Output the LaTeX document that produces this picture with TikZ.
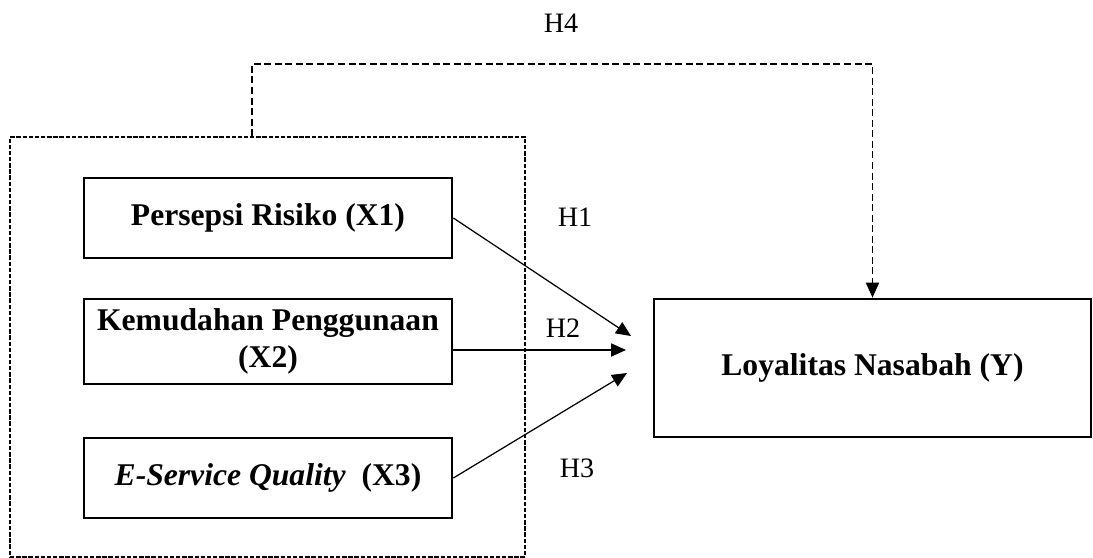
\documentclass[tikz,border=0pt]{standalone}
\usepackage{fontspec}
\setmainfont{Liberation Serif}
\usepackage{tikz}
\usetikzlibrary{arrows.meta}

\begin{document}
\begin{tikzpicture}[x=0.02cm,y=-0.02cm,
  varbox/.style={draw,line width=1.6pt,minimum width=7.36cm,minimum height=1.6cm,
    inner sep=0pt,align=center,font=\fontsize{18}{21}\selectfont\bfseries},
  grpbox/.style={draw,line width=1pt,dash pattern=on 2.5pt off 1pt,
    minimum width=10.3cm,minimum height=8.4cm,inner sep=0pt},
  hyp/.style={font=\fontsize{16}{19}\selectfont},
  path/.style={line width=0.7pt,-{Triangle[length=8.5pt,width=7.5pt]}},
  h4path/.style={path,dash pattern=on 4pt off 2pt}]

\useasboundingbox (0,0) rectangle (1093,558);

\node[grpbox] (grp) at (267.5,347) {};

\node[varbox] (x1) at (268,218) {Persepsi Risiko (X1)};
\node[varbox,minimum height=1.7cm] (x2) at (268,341.5) {Kemudahan Penggunaan\\(X2)};
\node[varbox] (x3) at (268,478) {\textit{E-Service Quality}\ \ (X3)};
\node[varbox,minimum width=8.74cm,minimum height=2.76cm] (ly) at (872.5,368) {Loyalitas Nasabah (Y)};

\coordinate (t1) at (631,336);
\coordinate (t2) at (626,350);
\coordinate (t3) at (627,373);
\coordinate (c4) at (252,64);

\draw[path] (x1.east) -- (t1);
\draw[path] (x2.east |- t2) -- (t2);
\draw[path] (x3.east) -- (t3);
\draw[h4path] (c4 |- grp.north) -- (c4) -| (ly.north);

\node[hyp] (h1) at (575,217) {H1};
\node[hyp] (h2) at (563,328) {H2};
\node[hyp] (h3) at (577,468) {H3};
\node[hyp] (h4) at (561,23) {H4};

\end{tikzpicture}
\end{document}
